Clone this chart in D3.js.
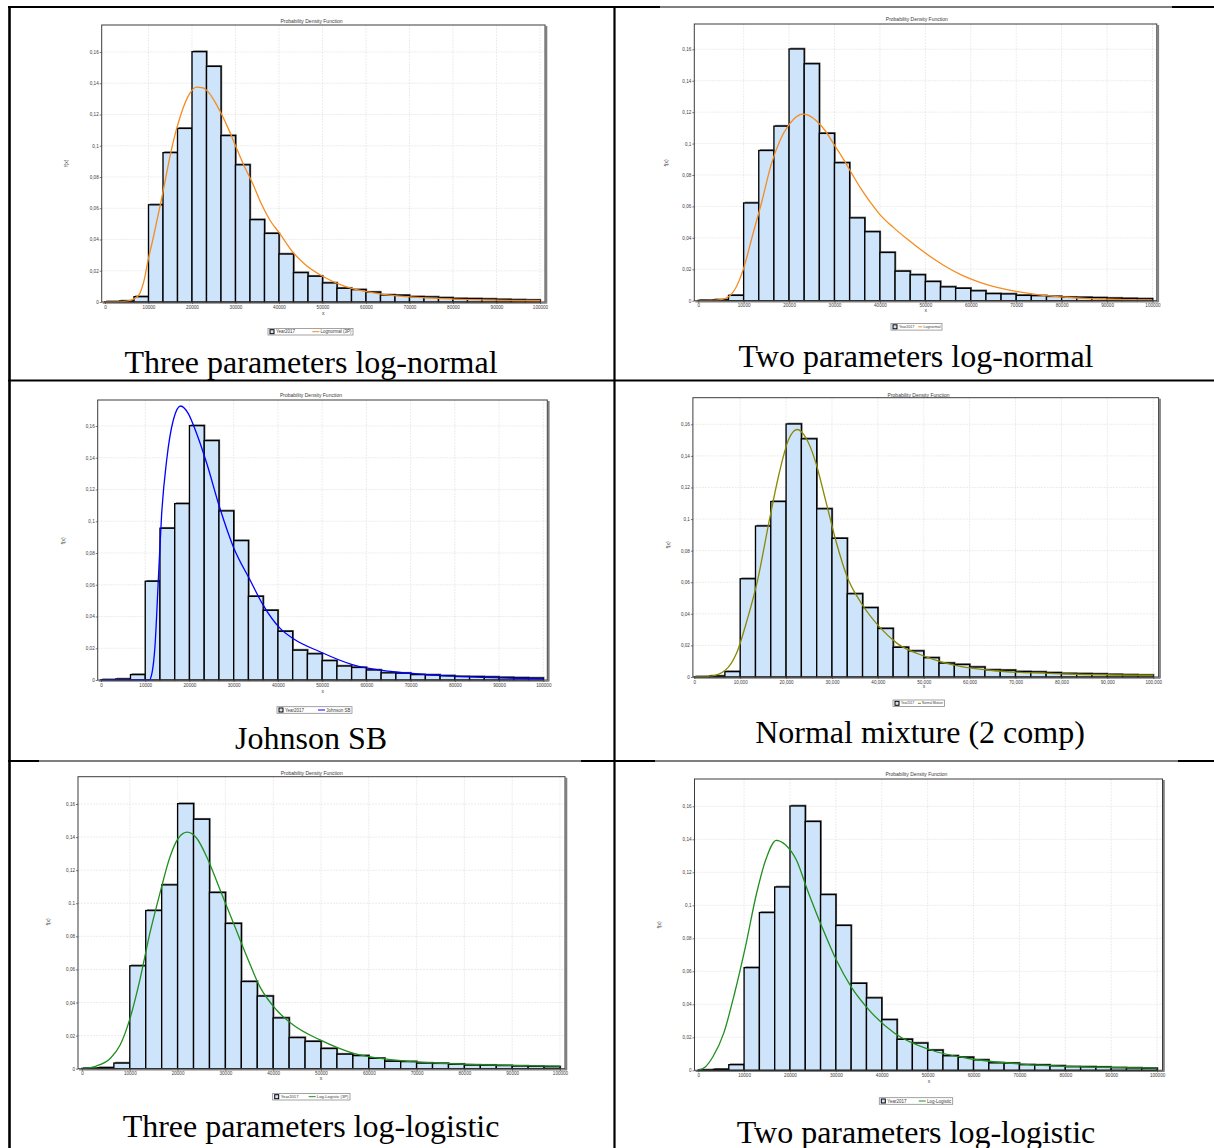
<!DOCTYPE html>
<html>
<head>
<meta charset="utf-8">
<script src="https://cdn.jsdelivr.net/npm/d3@7"></script>
<style>
body { margin: 0; background: #fff; }
svg { display: block; }
.tiny { font-family: "Liberation Sans", Arial, sans-serif; fill: #3a3a3a; }
.caption { font-family: "Liberation Serif", "Times New Roman", serif; font-size: 32px; fill: #000; }
</style>
</head>
<body>
<svg id="chart" width="1214" height="1148"></svg>
<script>
// histogram shared by all six panels (relative frequency per bin)
var binEdges = [0, 3333, 6667, 10000, 13333, 16667, 20000, 23333, 26667, 30000, 33333,
    36667, 40000, 43333, 46667, 50000, 53333, 56667, 60000, 63333, 66667,
    70000, 73333, 76667, 80000, 83333, 86667, 90000, 93333, 96667, 100000];
var year2017 = [0.0002, 0.0006, 0.0034, 0.0622, 0.0956, 0.1111, 0.1602, 0.1508, 0.1065, 0.0878,
    0.0527, 0.0439, 0.0307, 0.0188, 0.0165, 0.0122, 0.0088, 0.0079, 0.0063, 0.0045,
    0.0043, 0.0034, 0.0032, 0.0027, 0.0022, 0.0021, 0.0019, 0.0016, 0.0014, 0.0012];
var seriesName = "Year2017";

var xTicks = [0, 10000, 20000, 30000, 40000, 50000, 60000, 70000, 80000, 90000, 100000];
var yTicks = [0, 0.02, 0.04, 0.06, 0.08, 0.1, 0.12, 0.14, 0.16];

var captions = ["Three parameters log-normal", "Two parameters log-normal", "Johnson SB",
    "Normal mixture (2 comp)", "Three parameters log-logistic", "Two parameters log-logistic"];
var fitNames = ["Lognormal (3P)", "Lognormal", "Johnson SB", "Normal Mixture",
    "Log-Logistic (3P)", "Log-Logistic"];

// fitted curves, [x, f(x)]
var lognormal3P = [[0, 0], [4000, 0.0002], [6000, 0.0012], [7000, 0.0025], [8000, 0.0055],
    [9000, 0.014], [10000, 0.028], [11000, 0.04], [12000, 0.053], [13000, 0.066], [14000, 0.08],
    [15000, 0.094], [16000, 0.106], [17000, 0.116], [18000, 0.1245], [19500, 0.1335],
    [21000, 0.1375], [22500, 0.137], [24000, 0.1335], [25500, 0.127], [27000, 0.119],
    [28500, 0.11], [30000, 0.1], [32000, 0.087], [34000, 0.0755], [36000, 0.0625],
    [38000, 0.052], [40000, 0.0445], [43000, 0.0325], [46000, 0.024], [50000, 0.0165],
    [55000, 0.0102], [60000, 0.0067], [65000, 0.0046], [70000, 0.0033], [80000, 0.0019],
    [90000, 0.0012], [100000, 0.0008]];
var lognormal2P = [[0, 0], [4000, 0.0003], [6000, 0.0015], [8000, 0.0068], [10000, 0.0206],
    [12000, 0.042], [14000, 0.063], [16000, 0.086], [18000, 0.102], [20000, 0.112],
    [22000, 0.1178], [23000, 0.1187], [24000, 0.1183], [26000, 0.1145], [28000, 0.108],
    [30000, 0.099], [32000, 0.09], [34000, 0.08], [36000, 0.0705], [38000, 0.0622],
    [40000, 0.0548], [43000, 0.0465], [46000, 0.0392], [50000, 0.0303], [54000, 0.0226],
    [58000, 0.0163], [62000, 0.0117], [66000, 0.0083], [70000, 0.0059], [75000, 0.0037],
    [82000, 0.002], [90000, 0.001], [100000, 0.0004]];
var johnsonSB = [[0, 0], [10900, 0], [11500, 0.004], [12200, 0.021], [12960, 0.063],
    [13700, 0.104], [14850, 0.1386], [16350, 0.1638], [18000, 0.1726], [19700, 0.168],
    [21600, 0.1554], [23900, 0.1365], [26900, 0.108], [29900, 0.084], [33700, 0.063],
    [36700, 0.047], [40500, 0.0325], [43500, 0.026], [49500, 0.0178], [57000, 0.0095],
    [66000, 0.0052], [73600, 0.0034], [88700, 0.0015], [100000, 0.0008]];
var normalMix = [[0, 0.0002], [3700, 0.0006], [6800, 0.0044], [9200, 0.015], [11500, 0.036],
    [13800, 0.0614], [16200, 0.097], [18500, 0.129], [20500, 0.15], [22400, 0.1567],
    [24400, 0.151], [26300, 0.1374], [28600, 0.112], [31000, 0.0847], [33300, 0.0635],
    [36400, 0.0467], [40300, 0.0319], [44200, 0.0213], [50400, 0.0129], [58200, 0.0065],
    [66000, 0.0038], [81600, 0.0019], [100000, 0.0011]];
var logLogistic3P = [[0, 0], [3000, 0.0016], [6000, 0.0065], [8000, 0.0145], [10000, 0.03],
    [12100, 0.0536], [14200, 0.0819], [16300, 0.106], [18400, 0.128], [20150, 0.1393],
    [22000, 0.143], [24000, 0.1393], [26100, 0.128], [28900, 0.108], [31700, 0.0879],
    [34500, 0.0677], [37200, 0.0496], [40700, 0.0355], [44200, 0.0264], [49800, 0.0174],
    [56800, 0.0093], [65100, 0.0053], [79100, 0.0028], [100000, 0.0016]];
var logLogistic2P = [[0, 0], [1600, 0.0022], [3200, 0.0082], [5550, 0.0224], [7930, 0.0467],
    [10300, 0.0749], [12700, 0.107], [14700, 0.1274], [17000, 0.1394], [19000, 0.1367],
    [21400, 0.1274], [23800, 0.1093], [26950, 0.087], [30100, 0.0668], [33300, 0.0507],
    [37250, 0.0365], [42800, 0.0224], [50700, 0.0123], [58600, 0.0073], [70500, 0.0038],
    [82400, 0.0022], [100000, 0.0013]];

var barFill = "#cde4fb";

var svg = d3.select("#chart");
svg.append("rect").attr("width", 1214).attr("height", 1148).attr("fill", "#fff");

// frame = [left, top, right, bottom]; legend = [left, top, right, font size, line length]
var panels = [
    {fit: lognormal3P, name: fitNames[0], color: "#f68b1f", caption: captions[0],
     frame: [101.7, 25, 545, 302], xr: [105, 540], yr: [302, 52], title: [311.5, 22.7],
     ylab: [68.3, 163.3], xlab: [323.3, 315], legend: [268, 328.4, 353, 4.5, 7], cap: [311, 373]},
    {fit: lognormal2P, name: fitNames[1], color: "#f68b1f", caption: captions[1],
     frame: [694.3, 24, 1156.8, 300.7], xr: [698.2, 1152.5], yr: [300.7, 49.3], title: [916.8, 21],
     ylab: [667.9, 163], xlab: [925.7, 311.5], legend: [891, 323.5, 942, 3.6, 4], cap: [916, 366.7]},
    {fit: johnsonSB, name: fitNames[2], color: "#0000ff", caption: captions[2],
     frame: [97.7, 400, 547.3, 680], xr: [101, 543.3], yr: [680, 426], title: [311, 396.7],
     ylab: [65, 541], xlab: [322.7, 693], legend: [277, 706.7, 352, 4.5, 7], cap: [311, 749]},
    {fit: normalMix, name: fitNames[3], color: "#8a8a00", caption: captions[3], commaX: true,
     frame: [692.9, 397.7, 1158.6, 677], xr: [694.3, 1153.2], yr: [677, 424.3], title: [918.6, 396.7],
     ylab: [670, 545], xlab: [924, 687.5], legend: [893, 700, 944.6, 3.1, 3], cap: [920, 743]},
    {fit: logLogistic3P, name: fitNames[4], color: "#1f8f1f", caption: captions[4],
     frame: [78, 776.7, 565, 1068.7], xr: [82, 560], yr: [1068.7, 804], title: [311.7, 775],
     ylab: [50, 922], xlab: [321, 1079.5], legend: [272.7, 1093.4, 350, 4.2, 7], cap: [311, 1137]},
    {fit: logLogistic2P, name: fitNames[5], color: "#1f8f1f", caption: captions[5],
     frame: [694.5, 779, 1162.5, 1070.3], xr: [698.2, 1157.1], yr: [1070.3, 806.3], title: [916.4, 775.7],
     ylab: [661, 925], xlab: [929, 1083], legend: [879.3, 1097.7, 952.7, 4.5, 7], cap: [916, 1142.5]}
];

function yFormat(d) {
    return d === 0 ? "0" : d3.format(".2~f")(d).replace(".", ",");
}

function drawPanel(p) {
    var g = svg.append("g");
    var f = p.frame;
    var x = d3.scaleLinear().domain([0, 100000]).range(p.xr);
    var y = d3.scaleLinear().domain([0, 0.16]).range(p.yr);

    g.append("rect").attr("x", f[0]).attr("y", f[1])
        .attr("width", f[2] - f[0]).attr("height", f[3] - f[1]).attr("fill", "#fff");

    // grid
    g.selectAll(".vgrid").data(xTicks.slice(1)).enter().append("line")
        .attr("x1", function (d) { return x(d); }).attr("x2", function (d) { return x(d); })
        .attr("y1", f[1]).attr("y2", f[3])
        .attr("stroke", "#e4e4e4").attr("stroke-width", 0.7).attr("stroke-dasharray", "2,1");
    g.selectAll(".hgrid").data(yTicks.slice(1)).enter().append("line")
        .attr("x1", f[0]).attr("x2", f[2])
        .attr("y1", function (d) { return y(d); }).attr("y2", function (d) { return y(d); })
        .attr("stroke", "#e4e4e4").attr("stroke-width", 0.7).attr("stroke-dasharray", "2,1");

    // histogram: shadows first, then bars
    var bars = year2017.map(function (v, i) { return {x0: binEdges[i], x1: binEdges[i + 1], v: v}; });
    g.selectAll(".shadow").data(bars).enter().append("rect")
        .attr("x", function (d) { return x(d.x0) + 1.2; })
        .attr("y", function (d) { return y(d.v) - 1.3; })
        .attr("width", function (d) { return x(d.x1) - x(d.x0); })
        .attr("height", function (d) { return y(0) - y(d.v) + 1.3; })
        .attr("fill", "#6e6e6e");
    g.selectAll(".bar").data(bars).enter().append("rect")
        .attr("x", function (d) { return x(d.x0); })
        .attr("y", function (d) { return y(d.v); })
        .attr("width", function (d) { return x(d.x1) - x(d.x0); })
        .attr("height", function (d) { return y(0) - y(d.v); })
        .attr("fill", barFill).attr("stroke", "#000").attr("stroke-width", 1.35);

    // fitted curve
    var line = d3.line()
        .x(function (d) { return x(d[0]); })
        .y(function (d) { return y(d[1]); })
        .curve(d3.curveMonotoneX);
    g.append("path").datum(p.fit).attr("d", line)
        .attr("fill", "none").attr("stroke", p.color).attr("stroke-width", 1.3);

    // frame with shadow on right and bottom
    g.append("line").attr("x1", f[2] + 1.4).attr("x2", f[2] + 1.4).attr("y1", f[1] + 1).attr("y2", f[3] + 1.5)
        .attr("stroke", "#808080").attr("stroke-width", 1.8);
    g.append("line").attr("x1", f[0] + 1).attr("x2", f[2] + 1.4).attr("y1", f[3] + 1.2).attr("y2", f[3] + 1.2)
        .attr("stroke", "#808080").attr("stroke-width", 1.2);
    g.append("rect").attr("x", f[0]).attr("y", f[1])
        .attr("width", f[2] - f[0]).attr("height", f[3] - f[1])
        .attr("fill", "none").attr("stroke", "#3c3c3c").attr("stroke-width", 1);

    // axes
    var xAxis = d3.axisBottom(x).tickValues(xTicks).tickSize(2).tickPadding(1.5)
        .tickFormat(p.commaX ? d3.format(",") : d3.format("d"));
    var gx = g.append("g").attr("transform", "translate(0," + f[3] + ")").call(xAxis);
    var yAxis = d3.axisLeft(y).tickValues(yTicks).tickSize(2).tickPadding(1).tickFormat(yFormat);
    var gy = g.append("g").attr("transform", "translate(" + f[0] + ",0)").call(yAxis);
    [gx, gy].forEach(function (a) {
        a.select(".domain").remove();
        a.selectAll("line").attr("stroke", "#444").attr("stroke-width", 0.7);
        a.selectAll("text").attr("class", "tiny").style("font-size", "4.6px")
            .attr("font-family", null).attr("fill", null);
    });

    // titles
    g.append("text").attr("class", "tiny").attr("x", p.title[0]).attr("y", p.title[1])
        .attr("text-anchor", "middle").style("font-size", "5px").text("Probability Density Function");
    g.append("text").attr("class", "tiny").attr("text-anchor", "middle").style("font-size", "5px")
        .attr("transform", "translate(" + p.ylab[0] + "," + p.ylab[1] + ") rotate(-90)").text("f(x)");
    g.append("text").attr("class", "tiny").attr("x", p.xlab[0]).attr("y", p.xlab[1])
        .attr("text-anchor", "middle").style("font-size", "5px").text("x");

    // legend
    var lx = p.legend[0], ly = p.legend[1], lr = p.legend[2], fs = p.legend[3], ll = p.legend[4];
    var lh = 6.6;
    var lg = g.append("g");
    lg.append("rect").attr("x", lx).attr("y", ly).attr("width", lr - lx).attr("height", lh)
        .attr("fill", "#fff").attr("stroke", "#8c8c8c").attr("stroke-width", 0.8);
    lg.append("rect").attr("x", lx + 2).attr("y", ly + 1.3).attr("width", 4).attr("height", 4)
        .attr("fill", barFill).attr("stroke", "#000").attr("stroke-width", 1);
    lg.append("text").attr("class", "tiny").attr("x", lx + 8).attr("y", ly + lh / 2 + fs * 0.36)
        .style("font-size", fs + "px").text(seriesName);
    var t2 = lg.append("text").attr("class", "tiny").attr("x", lr - 1.5).attr("y", ly + lh / 2 + fs * 0.36)
        .attr("text-anchor", "end").style("font-size", fs + "px").text(p.name);
    var w = t2.node().getComputedTextLength();
    lg.append("line").attr("x1", lr - 1.5 - w - 1.2 - ll).attr("x2", lr - 1.5 - w - 1.2)
        .attr("y1", ly + lh / 2).attr("y2", ly + lh / 2)
        .attr("stroke", p.color).attr("stroke-width", 1);

    // caption under the chart
    svg.append("text").attr("class", "caption").attr("x", p.cap[0]).attr("y", p.cap[1])
        .attr("text-anchor", "middle").text(p.caption);
}

panels.forEach(drawPanel);

// table rules
var rules = svg.append("g").attr("stroke", "#000");
function rule(x1, y1, x2, y2, w) {
    rules.append("line").attr("x1", x1).attr("y1", y1).attr("x2", x2).attr("y2", y2).attr("stroke-width", w);
}
rule(8, 7, 660, 7, 2.2);
rule(660, 7, 1172, 7, 1);
rule(1172, 7, 1214, 7, 2.2);
rule(9.5, 6, 9.5, 1148, 2.6);
rule(614.5, 6, 614.5, 1148, 2.2);
rule(8, 380.5, 1214, 380.5, 2);
rule(8, 761, 39, 761, 2);
rule(39, 761, 581, 761, 1);
rule(581, 761, 655, 761, 2);
rule(655, 761, 1178, 761, 1);
rule(1178, 761, 1214, 761, 2);
</script>
</body>
</html>
